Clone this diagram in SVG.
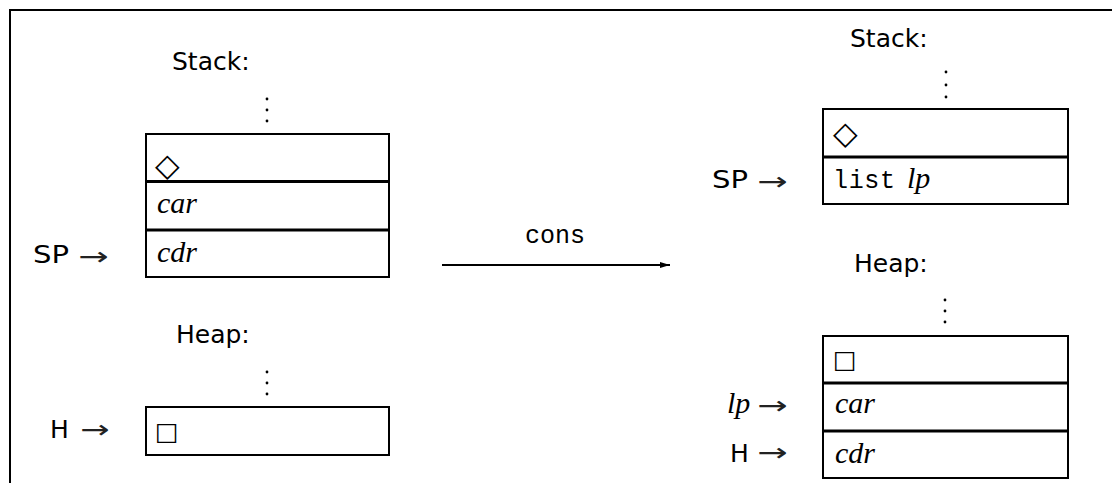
<svg xmlns="http://www.w3.org/2000/svg" width="1112" height="483" viewBox="0 0 1112 483">
<style>
.sans{font-family:"DejaVu Sans",sans-serif;font-size:25px;fill:#000}
.it{font-family:"Liberation Serif",serif;font-style:italic;font-size:30px;fill:#000}
.tt{font-family:"Liberation Mono",monospace;font-size:25px;fill:#000}
.arr{font-family:"DejaVu Sans",sans-serif;font-size:25px;fill:#222}
.dia{font-family:"DejaVu Sans",sans-serif;font-size:32px;fill:#000}
.sq{font-family:"DejaVu Sans",sans-serif;font-size:25px;fill:#000}
.box{fill:#fff;stroke:#000;stroke-width:2}
.dv{stroke:#000;stroke-width:3}
.dot{fill:#000}
.frame{fill:none;stroke:#000;stroke-width:2}
</style>
<defs>
<marker id="ah" viewBox="0 0 10 6" refX="10" refY="3" markerWidth="10" markerHeight="6" markerUnits="userSpaceOnUse" orient="auto">
<path d="M0,0 L10,3 L0,6 z" fill="#000"/>
</marker>
</defs>
<path class="frame" d="M10,483 V10 H1112"/>

<g id="left-stack">
<text class="sans" x="172" y="70">Stack:</text>
<circle class="dot" cx="267" cy="99" r="1.4"/><circle class="dot" cx="267" cy="110" r="1.4"/><circle class="dot" cx="267" cy="121" r="1.4"/>
<rect class="box" x="146" y="134" width="243" height="143"/>
<line class="dv" x1="146" y1="181.5" x2="389" y2="181.5"/>
<line class="dv" x1="146" y1="230" x2="389" y2="230"/>
<text class="dia" x="155" y="176">◇</text>
<text class="it" x="157" y="213" textLength="40">car</text>
<text class="it" x="157" y="262" textLength="40">cdr</text>
<text class="sans" x="33" y="263" textLength="36" lengthAdjust="spacingAndGlyphs">SP</text>
<text class="arr" transform="translate(78,265) scale(1.45,1)">→</text>
</g>

<g id="left-heap">
<text class="sans" x="176" y="343">Heap:</text>
<circle class="dot" cx="267" cy="372" r="1.4"/><circle class="dot" cx="267" cy="383" r="1.4"/><circle class="dot" cx="267" cy="394" r="1.4"/>
<rect class="box" x="146" y="407" width="243" height="48"/>
<text class="sq" x="155" y="440">□</text>
<text class="sans" x="50" y="438">H</text>
<text class="arr" transform="translate(80,438) scale(1.4,1)">→</text>
</g>

<g id="connectors">
<line x1="442" y1="265" x2="670" y2="265" stroke="#000" stroke-width="2" marker-end="url(#ah)"/>
<text class="tt" x="525" y="243" textLength="60" lengthAdjust="spacingAndGlyphs">cons</text>
</g>

<g id="right-stack">
<text class="sans" x="850" y="47">Stack:</text>
<circle class="dot" cx="946" cy="72" r="1.4"/><circle class="dot" cx="946" cy="85" r="1.4"/><circle class="dot" cx="946" cy="97" r="1.4"/>
<rect class="box" x="823" y="109" width="245" height="95"/>
<line class="dv" x1="823" y1="157" x2="1068" y2="157"/>
<text class="dia" x="833" y="144">◇</text>
<text class="tt" x="833" y="188" textLength="62">list</text>
<text class="it" x="907" y="188">lp</text>
<text class="sans" x="712" y="188" textLength="36" lengthAdjust="spacingAndGlyphs">SP</text>
<text class="arr" transform="translate(757,190) scale(1.45,1)">→</text>
</g>

<g id="right-heap">
<text class="sans" x="854" y="272">Heap:</text>
<circle class="dot" cx="945" cy="300" r="1.4"/><circle class="dot" cx="945" cy="311" r="1.4"/><circle class="dot" cx="945" cy="322" r="1.4"/>
<rect class="box" x="823" y="336" width="245" height="142"/>
<line class="dv" x1="823" y1="383" x2="1068" y2="383"/>
<line class="dv" x1="823" y1="431" x2="1068" y2="431"/>
<text class="sq" x="833" y="368">□</text>
<text class="it" x="835" y="413" textLength="40">car</text>
<text class="it" x="835" y="463" textLength="40">cdr</text>
<text class="it" x="727" y="413">lp</text>
<text class="arr" transform="translate(757,414) scale(1.45,1)">→</text>
<text class="sans" x="730" y="462">H</text>
<text class="arr" transform="translate(757,461) scale(1.45,1)">→</text>
</g>
</svg>
